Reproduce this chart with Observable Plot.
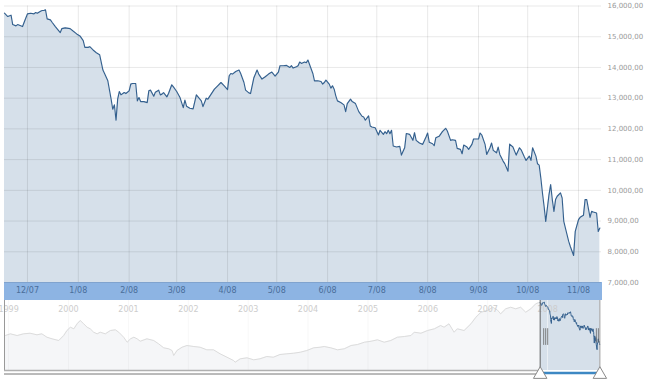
<!DOCTYPE html>
<html><head><meta charset="utf-8">
<script src="https://cdn.jsdelivr.net/npm/d3@7"></script>
<script src="https://cdn.jsdelivr.net/npm/@observablehq/plot@0.6"></script>
<style>
html,body{margin:0;padding:0;background:#fff;}
#wrap{position:relative;width:654px;height:384px;overflow:hidden;background:#fff;}
#band{position:absolute;left:4px;top:282px;width:598px;height:18px;background:#8db4e3;}
#wrap svg{position:absolute;left:0;}
</style></head><body><div id="wrap"><div id="band"></div></div>
<script>
const dates = ["2007-11-17","2007-11-19","2007-11-21","2007-11-22","2007-11-24","2007-11-25","2007-11-28","2007-11-29","2007-12-01","2007-12-03","2007-12-05","2007-12-06","2007-12-07","2007-12-09","2007-12-10","2007-12-11","2007-12-12","2007-12-13","2007-12-15","2007-12-16","2007-12-18","2007-12-20","2007-12-21","2007-12-22","2007-12-24","2007-12-27","2007-12-29","2007-12-31","2008-01-02","2008-01-04","2008-01-05","2008-01-07","2008-01-08","2008-01-10","2008-01-12","2008-01-14","2008-01-16","2008-01-17","2008-01-19","2008-01-21","2008-01-22","2008-01-23","2008-01-24","2008-01-25","2008-01-26","2008-01-27","2008-01-29","2008-01-30","2008-02-01","2008-02-02","2008-02-03","2008-02-05","2008-02-06","2008-02-07","2008-02-08","2008-02-10","2008-02-12","2008-02-13","2008-02-14","2008-02-16","2008-02-17","2008-02-19","2008-02-20","2008-02-21","2008-02-22","2008-02-24","2008-02-25","2008-02-27","2008-02-28","2008-03-01","2008-03-03","2008-03-04","2008-03-05","2008-03-06","2008-03-07","2008-03-09","2008-03-11","2008-03-13","2008-03-14","2008-03-16","2008-03-17","2008-03-19","2008-03-20","2008-03-22","2008-03-24","2008-03-26","2008-03-28","2008-03-30","2008-04-01","2008-04-02","2008-04-03","2008-04-04","2008-04-06","2008-04-08","2008-04-09","2008-04-11","2008-04-12","2008-04-14","2008-04-15","2008-04-17","2008-04-19","2008-04-20","2008-04-22","2008-04-24","2008-04-26","2008-04-28","2008-04-30","2008-05-02","2008-05-03","2008-05-05","2008-05-07","2008-05-09","2008-05-10","2008-05-11","2008-05-13","2008-05-14","2008-05-15","2008-05-16","2008-05-18","2008-05-19","2008-05-20","2008-05-22","2008-05-23","2008-05-24","2008-05-26","2008-05-28","2008-05-29","2008-05-30","2008-05-31","2008-06-02","2008-06-03","2008-06-04","2008-06-05","2008-06-06","2008-06-07","2008-06-09","2008-06-11","2008-06-12","2008-06-13","2008-06-15","2008-06-16","2008-06-18","2008-06-19","2008-06-20","2008-06-22","2008-06-23","2008-06-24","2008-06-26","2008-06-27","2008-06-28","2008-06-30","2008-07-02","2008-07-03","2008-07-05","2008-07-06","2008-07-07","2008-07-08","2008-07-09","2008-07-10","2008-07-11","2008-07-13","2008-07-15","2008-07-16","2008-07-18","2008-07-19","2008-07-21","2008-07-23","2008-07-24","2008-07-25","2008-07-27","2008-07-29","2008-07-31","2008-08-01","2008-08-02","2008-08-04","2008-08-05","2008-08-06","2008-08-08","2008-08-10","2008-08-12","2008-08-13","2008-08-15","2008-08-16","2008-08-18","2008-08-19","2008-08-21","2008-08-22","2008-08-23","2008-08-25","2008-08-26","2008-08-28","2008-08-29","2008-09-01","2008-09-02","2008-09-03","2008-09-05","2008-09-06","2008-09-08","2008-09-09","2008-09-10","2008-09-12","2008-09-13","2008-09-14","2008-09-16","2008-09-17","2008-09-19","2008-09-20","2008-09-22","2008-09-24","2008-09-26","2008-09-27","2008-09-29","2008-09-30","2008-10-02","2008-10-03","2008-10-04","2008-10-06","2008-10-07","2008-10-08","2008-10-09","2008-10-10","2008-10-11","2008-10-12","2008-10-13","2008-10-14","2008-10-15","2008-10-16","2008-10-17","2008-10-18","2008-10-19","2008-10-21","2008-10-22","2008-10-23","2008-10-24","2008-10-26","2008-10-27","2008-10-29","2008-10-30","2008-11-01","2008-11-02","2008-11-04","2008-11-05","2008-11-06","2008-11-08","2008-11-09","2008-11-10","2008-11-12","2008-11-13","2008-11-14"];
const values = [15765,15657,15700,15395,15353,15395,15330,15471,15745,15765,15745,15788,15765,15830,15853,15853,15876,15582,15549,15471,15330,15199,15134,15265,15288,15265,15176,15092,15026,14873,14654,14654,14676,14569,14480,14415,13915,13804,13565,12967,12640,12781,12281,12967,13216,13108,13183,13150,13239,13458,13477,13477,12912,13020,12889,12889,12856,13239,13261,13065,13196,13261,13108,13131,13183,13042,13150,13435,13369,13216,13020,12856,12693,12935,12739,12673,12650,13108,13042,12912,12725,13000,12967,13131,13294,13402,13510,13402,13281,13729,13804,13784,13869,13915,13804,13510,13261,13173,13150,13654,13915,13784,13621,13696,13784,13850,13719,13850,14056,14056,14065,14000,14056,13980,14023,14056,14176,14131,14176,14154,14242,13948,13804,13565,13565,13542,13458,13510,13588,13458,13327,13402,13294,13075,12912,12856,12781,12562,12823,12967,12889,12823,12693,12562,12412,12389,12281,12422,12095,12062,12039,11801,11954,11823,11909,11843,11954,11843,11954,11441,11409,11431,11147,11386,11850,11823,11627,11876,11627,11539,11497,11735,11866,11562,11516,11451,11712,11758,11909,12020,11931,11627,11647,11627,11366,11333,11190,11474,11409,11333,11497,11670,11670,11866,11801,11497,11170,11386,11539,11301,11222,11409,11170,10951,10869,10624,11506,11409,11147,11386,11320,11082,10974,11114,10974,11386,11114,10863,10820,10405,9915,9480,8990,9425,9863,10190,9699,9317,9699,9807,9915,9752,8990,8771,8337,8173,7879,8663,9046,9121,9186,9699,9699,9121,9317,9294,9261,8663,8771];

const navDates = ["1998-12-07","1998-12-12","1999-01-12","1999-02-22","1999-04-02","1999-05-12","1999-06-23","1999-07-23","1999-08-23","1999-09-23","1999-11-03","1999-12-03","1999-12-23","2000-01-13","2000-02-03","2000-02-23","2000-03-13","2000-04-03","2000-04-24","2000-05-13","2000-06-03","2000-06-24","2000-07-13","2000-08-13","2000-09-13","2000-10-13","2000-11-03","2000-12-03","2000-12-24","2001-01-14","2001-02-03","2001-02-23","2001-03-14","2001-04-24","2001-06-04","2001-07-04","2001-08-04","2001-09-04","2001-09-24","2001-10-04","2001-10-24","2001-11-24","2001-12-24","2002-02-04","2002-03-14","2002-04-24","2002-06-04","2002-07-14","2002-08-25","2002-10-04","2002-10-14","2002-11-14","2002-12-25","2003-02-04","2003-03-14","2003-04-25","2003-06-04","2003-07-14","2003-08-25","2003-10-05","2003-11-15","2003-12-25","2004-02-05","2004-03-15","2004-04-09","2004-05-19","2004-06-29","2004-08-09","2004-09-20","2004-10-29","2004-12-10","2005-01-20","2005-02-28","2005-04-10","2005-05-20","2005-06-29","2005-08-10","2005-09-20","2005-10-10","2005-11-20","2005-12-30","2006-02-10","2006-03-20","2006-04-10","2006-05-10","2006-06-10","2006-06-30","2006-08-10","2006-09-21","2006-10-21","2006-11-21","2006-12-31","2007-01-31","2007-02-28","2007-03-21","2007-04-21","2007-05-21","2007-06-21","2007-07-21","2007-08-21","2007-09-21","2007-10-21","2007-11-05","2007-11-17"];
const navValues = [10254,10254,10540,10254,10540,10642,10374,10540,9970,9702,9416,10254,11096,11650,11382,12222,12776,12222,11650,11382,10810,10540,10810,10540,11096,11214,10810,9970,9130,9702,9970,9702,9298,9702,9416,8862,8190,8022,7736,6896,7736,8290,8576,8408,8290,7854,7854,7182,6610,6056,5770,6342,6510,6174,6342,6728,6610,7064,7182,7282,7450,7736,8190,8290,8408,8190,7854,8022,8576,8744,9130,9298,9534,9130,9416,9970,10088,10254,10810,10642,11096,11382,11936,11650,12222,10810,11382,11096,12222,13330,14170,14456,15010,14574,13902,14742,15010,14742,15010,14170,14742,15582,15750,15765];

const yTicks = [7000,8000,9000,10000,11000,12000,13000,14000,15000,16000];
const monthTicks = ["2007-12-01","2008-01-01","2008-02-01","2008-03-01","2008-04-01","2008-05-01","2008-06-01","2008-07-01","2008-08-01","2008-09-01","2008-10-01","2008-11-01"];
const navYears = ["1999-01-01","2000-01-01","2001-01-01","2002-01-01","2003-01-01","2004-01-01","2005-01-01","2006-01-01","2007-01-01","2008-01-01"];

const main = dates.map((d,i)=>({date:new Date(d), value:values[i]}));
const nav = navDates.map((d,i)=>({date:new Date(d), value:navValues[i]}));
const months = monthTicks.map(d=>new Date(d));
const years = navYears.map(d=>new Date(d));
const mainStart = new Date("2007-11-17"), mainEnd = new Date("2008-11-15");
const navStart = new Date("1998-12-07"), navEnd = new Date("2008-11-25");
const navYMin = 4380, navYMax = 16140;

const FONT = "DejaVu Sans, Verdana, sans-serif";
const wrap = document.getElementById("wrap");

const mainPlot = Plot.plot({
  width:654, height:300, marginTop:5.5, marginBottom:18, marginLeft:4, marginRight:53,
  style:{background:"transparent", fontFamily:FONT, overflow:"visible"},
  x:{type:"utc", domain:[mainStart, mainEnd]},
  y:{domain:[7000,16000]},
  marks:[
    Plot.areaY(main,{x:"date", y1:7000, y2:"value", fill:"#d6e0ea"}),
    Plot.ruleY(yTicks,{stroke:"#000", strokeOpacity:0.09}),
    Plot.ruleX(months,{stroke:"#000", strokeOpacity:0.09}),
    Plot.line(main,{x:"date", y:"value", stroke:"#34608e", strokeWidth:1.15}),
    Plot.axisY(yTicks,{anchor:"right", label:null, tickSize:0, tickPadding:6, tickFormat:v=>d3.format(",")(v)+",00", fontSize:7, color:"#9a9a9a"}),
    Plot.axisX(months,{anchor:"bottom", label:null, tickSize:0, tickPadding:5, tickFormat:d3.utcFormat("%-m/%y"), fontSize:8, color:"#4a6e9a"})
  ]
});
mainPlot.style.top = "0px";
wrap.appendChild(mainPlot);

const navPlot = Plot.plot({
  width:654, height:84, marginTop:0, marginBottom:14, marginLeft:4, marginRight:53,
  style:{background:"transparent", fontFamily:FONT, overflow:"visible"},
  x:{type:"utc", domain:[navStart, navEnd], axis:null},
  y:{domain:[navYMin, navYMax], axis:null},
  marks:[
    Plot.areaY(nav,{x:"date", y1:navYMin, y2:"value", fill:"#f5f6f8"}),
    Plot.ruleX(years,{stroke:"#000", strokeOpacity:0.03}),
    Plot.line(nav,{x:"date", y:"value", stroke:"#dcdcdc", strokeWidth:1}),
    Plot.rect([{x1:mainStart, x2:mainEnd}],{x1:"x1", x2:"x2", fill:"#d6e0ea"}),
    Plot.ruleX(years.filter(d=>d>=mainStart),{stroke:"#fff", strokeOpacity:0.5}),
    Plot.text(years,{x:d=>d, text:d=>String(d.getUTCFullYear()), frameAnchor:"top", dy:6, fill:"#cdcdcd", fontSize:8}),
    Plot.line(main,{x:"date", y:"value", stroke:"#34608e", strokeWidth:1}),
    Plot.ruleX([navStart],{stroke:"#999", strokeWidth:1}),
    Plot.ruleX([mainStart],{stroke:"#666", strokeWidth:1}),
    Plot.ruleX([mainEnd],{stroke:"#999", strokeWidth:1}),
    ...[3.5,5.5,7.5].map(dx=>Plot.ruleX([mainStart],{dx, y1:11400, y2:8600, stroke:"#666", strokeWidth:0.8})),
    ...[-3.5,-1.5].map(dx=>Plot.ruleX([mainEnd],{dx, y1:11400, y2:9000, stroke:"#666", strokeWidth:0.8})),
    Plot.ruleY([{y:navYMin, x1:navStart, x2:mainStart}],{y:"y", x1:"x1", x2:"x2", stroke:"#b0b0b0", strokeWidth:1.3}),
    Plot.ruleY([{y:navYMin, x1:navStart, x2:mainStart}],{y:"y", x1:"x1", x2:"x2", dy:3.5, stroke:"#777", strokeWidth:1}),
    Plot.ruleY([{y:navYMin, x1:mainStart, x2:mainEnd}],{y:"y", x1:"x1", x2:"x2", dy:2.5, stroke:"#3d88c3", strokeWidth:2.5}),
    Plot.dot([mainStart, mainEnd],{x:d=>d, frameAnchor:"bottom", dy:4, symbol:"triangle", r:5, fill:"#fff", stroke:"#8a8a8a", strokeWidth:1})
  ]
});
navPlot.style.top = "300px";
wrap.appendChild(navPlot);
</script></body></html>
